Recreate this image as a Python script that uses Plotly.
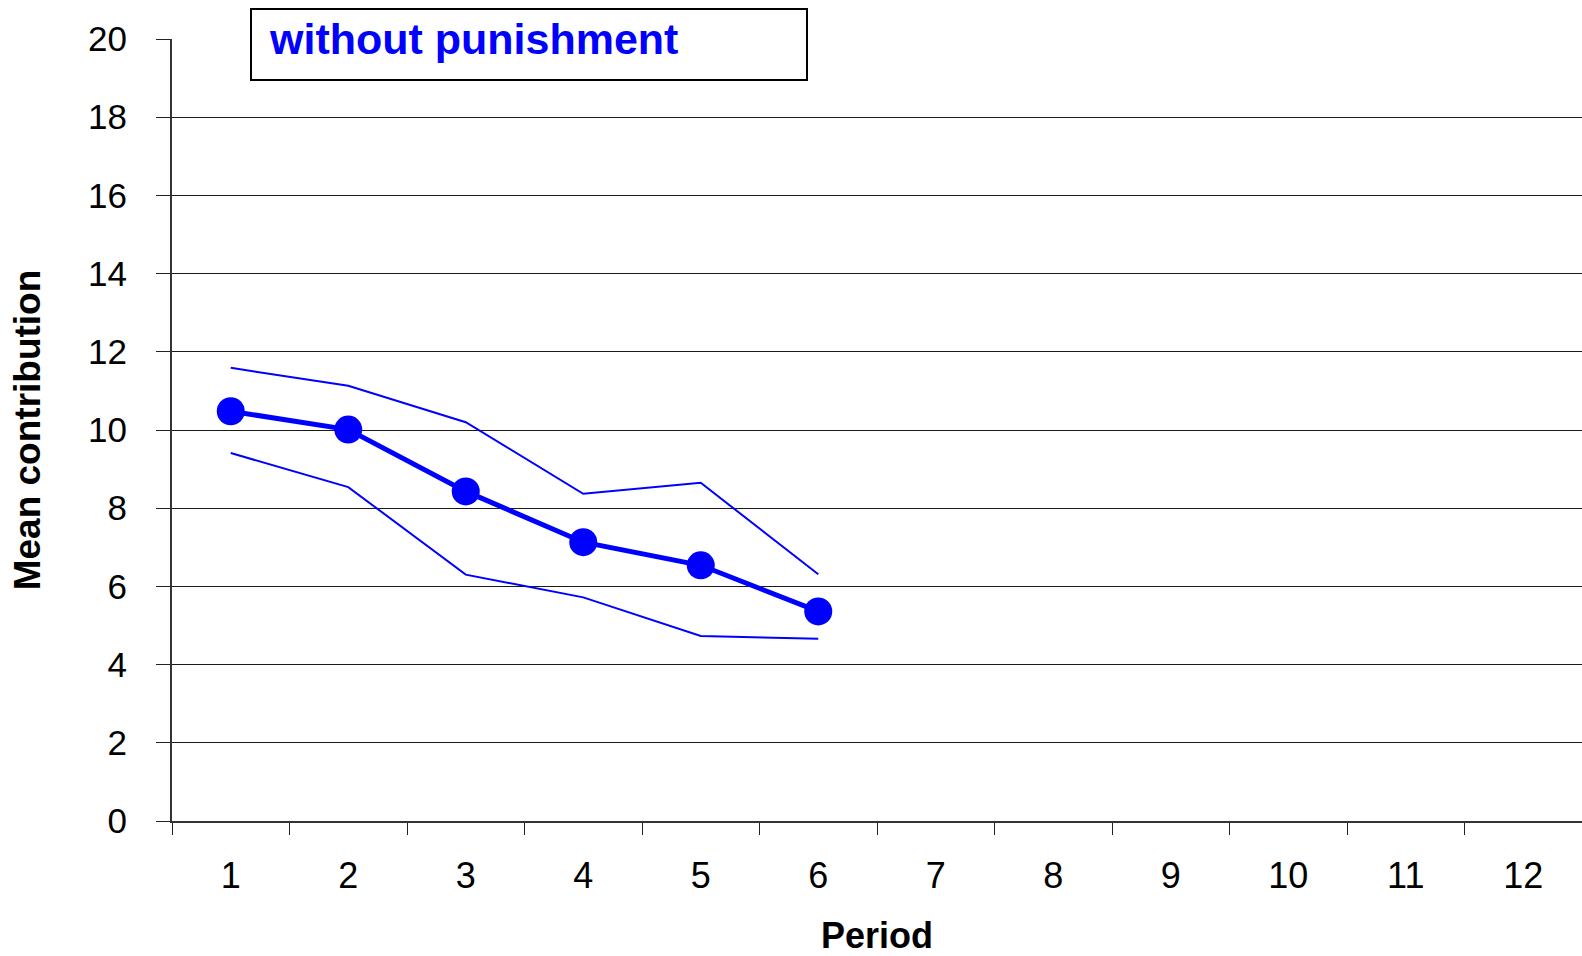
import plotly.graph_objects as go

# ---- data ----
all_periods = [str(i) for i in range(1, 13)]
periods = ["1", "2", "3", "4", "5", "6"]
mean_contribution = [10.48, 10.01, 8.43, 7.13, 6.54, 5.36]
upper_band = [11.59, 11.13, 10.20, 8.37, 8.65, 6.31]
lower_band = [9.41, 8.54, 6.30, 5.72, 4.73, 4.66]
y_ticks = [0, 2, 4, 6, 8, 10, 12, 14, 16, 18, 20]
panel_label = "without punishment"

BLUE = "#0000FF"
FONT = "Arial, Liberation Sans, sans-serif"

fig = go.Figure()

fig.add_trace(go.Scatter(x=periods, y=upper_band, mode="lines",
                         line=dict(color=BLUE, width=2), name="upper",
                         hoverinfo="skip"))
fig.add_trace(go.Scatter(x=periods, y=lower_band, mode="lines",
                         line=dict(color=BLUE, width=2), name="lower",
                         hoverinfo="skip"))
fig.add_trace(go.Scatter(x=periods, y=mean_contribution, mode="lines+markers",
                         line=dict(color=BLUE, width=5),
                         marker=dict(color=BLUE, size=28, symbol="circle"),
                         name="mean"))

W, H = 1582, 956
L, R, T, B = 172, 0, 39, 133
pw, ph = W - L - R, H - T - B

def px_x(p):
    return (p - L) / pw

def px_y(p):
    return (H - B - p) / ph

fig.update_layout(
    width=W, height=H,
    margin=dict(l=L, r=R, t=T, b=B, pad=0),
    paper_bgcolor="white", plot_bgcolor="white",
    showlegend=False,
    font=dict(family=FONT, color="black"),
    xaxis=dict(
        type="category",
        categoryorder="array", categoryarray=all_periods,
        range=[-0.5, 11.5],
        tickmode="array", tickvals=all_periods, ticktext=all_periods,
        tickson="boundaries",
        ticks="outside", ticklen=12, tickwidth=1, tickcolor="#222",
        ticklabelstandoff=22,
        tickfont=dict(size=36, family=FONT, color="black"),
        showgrid=False, zeroline=False,
        showline=True, linecolor="#333", linewidth=2,
        title=dict(text="<b>Period</b>", font=dict(size=36, family=FONT, color="black"),
                   standoff=35),
        fixedrange=True,
    ),
    yaxis=dict(
        range=[0, 20],
        tickmode="array", tickvals=y_ticks,
        ticks="outside", ticklen=14, tickwidth=1, tickcolor="#222",
        ticklabelstandoff=22,
        tickfont=dict(size=35, family=FONT, color="black"),
        showgrid=True, gridcolor="#1a1a1a", gridwidth=1,
        zeroline=False,
        showline=True, linecolor="#333", linewidth=2,
        title=dict(text="<b>Mean contribution</b>", font=dict(size=37, family=FONT, color="black"),
                   standoff=36),
        fixedrange=True,
    ),
)

# label box
fig.add_shape(type="rect", xref="paper", yref="paper",
              x0=px_x(251), x1=px_x(807), y0=px_y(80), y1=px_y(9),
              line=dict(color="black", width=2), fillcolor="white", layer="above")
fig.add_annotation(text="<b>%s</b>" % panel_label, xref="paper", yref="paper",
                   x=px_x(267), y=px_y(39), xanchor="left", yanchor="middle",
                   showarrow=False,
                   font=dict(size=43, family=FONT, color=BLUE))

fig.write_html("out.html")
